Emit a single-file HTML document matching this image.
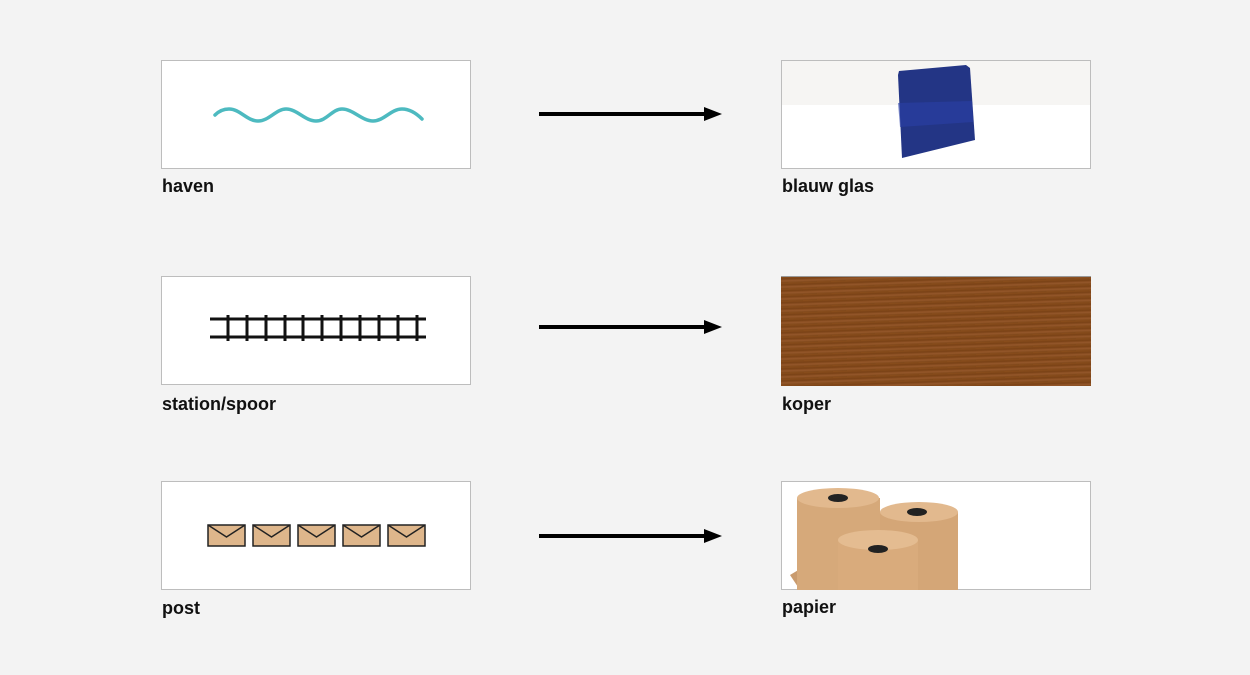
<!DOCTYPE html>
<html><head><meta charset="utf-8"><style>
html,body{margin:0;padding:0;background:#f3f3f3;}
body{width:1250px;height:675px;position:relative;overflow:hidden;font-family:"Liberation Sans",sans-serif;}
.box{position:absolute;width:308px;height:107px;background:#fff;border:1px solid #bdbdbd;overflow:hidden;}
.lbl{position:absolute;font-size:18px;font-weight:bold;color:#111;}
svg{position:absolute;left:0;top:0;}
</style></head><body>
<div class="box" style="left:161px;top:60px"></div>
<div class="box" style="left:161px;top:276px"></div>
<div class="box" style="left:161px;top:481px"></div>
<div class="box" style="left:781px;top:60px;background:linear-gradient(#f6f5f3 0,#f6f5f3 44px,#fff 44px)"></div>
<div class="box" style="left:781px;top:276px;width:310px;height:109px;border:none;border-top:1px solid #999;background:repeating-linear-gradient(178deg,#8a4e1c 0,#7a4216 2px,#94572a 4px,#7f4719 6px)"></div>
<div class="box" style="left:781px;top:481px"></div>
<div class="lbl" style="left:162px;top:176px">haven</div>
<div class="lbl" style="left:162px;top:394px">station/spoor</div>
<div class="lbl" style="left:162px;top:598px">post</div>
<div class="lbl" style="left:782px;top:176px">blauw glas</div>
<div class="lbl" style="left:782px;top:394px">koper</div>
<div class="lbl" style="left:782px;top:597px">papier</div>
<svg width="1250" height="675">
<path d="M215,115 C219,111 224,109 229,109 C240,109 247,121 258,121 C269,121 276,109 286,109 C297,109 305,121 316,121 C327,121 332,109 342,109 C353,109 362,121 373,121 C384,121 391,109 402,109 C410,109 417,114 422,119" fill="none" stroke="#4dbac0" stroke-width="3.5" stroke-linecap="round"/>
<g stroke="#111" stroke-width="3">
<line x1="210" y1="319" x2="426" y2="319"/><line x1="210" y1="337" x2="426" y2="337"/>
<line x1="228" y1="315" x2="228" y2="341"/><line x1="247" y1="315" x2="247" y2="341"/><line x1="266" y1="315" x2="266" y2="341"/><line x1="285" y1="315" x2="285" y2="341"/><line x1="303" y1="315" x2="303" y2="341"/><line x1="322" y1="315" x2="322" y2="341"/><line x1="341" y1="315" x2="341" y2="341"/><line x1="360" y1="315" x2="360" y2="341"/><line x1="379" y1="315" x2="379" y2="341"/><line x1="398" y1="315" x2="398" y2="341"/><line x1="417" y1="315" x2="417" y2="341"/>
</g>
<g fill="#deb68b" stroke="#222" stroke-width="1.5">
<rect x="208" y="525" width="37" height="21"/><polyline points="208,525 226.5,537 245,525" fill="none"/>
<rect x="253" y="525" width="37" height="21"/><polyline points="253,525 271.5,537 290,525" fill="none"/>
<rect x="298" y="525" width="37" height="21"/><polyline points="298,525 316.5,537 335,525" fill="none"/>
<rect x="343" y="525" width="37" height="21"/><polyline points="343,525 361.5,537 380,525" fill="none"/>
<rect x="388" y="525" width="37" height="21"/><polyline points="388,525 406.5,537 425,525" fill="none"/>
</g>
<g fill="#000" stroke="#000">
<line x1="539" y1="114" x2="706" y2="114" stroke-width="4"/><polygon points="704,107 722,114 704,121" stroke="none"/>
<line x1="539" y1="327" x2="706" y2="327" stroke-width="4"/><polygon points="704,320 722,327 704,334" stroke="none"/>
<line x1="539" y1="536" x2="706" y2="536" stroke-width="4"/><polygon points="704,529 722,536 704,543" stroke="none"/>
</g>
<polygon points="899,71 966,65 970,68 975,140 902,158 898,75" fill="#233585"/>
<polygon points="898,103 972,101 973,122 900,127" fill="#2a40a6" opacity=".6"/>
<g>
<polygon points="790,575 840,545 840,590 800,590" fill="#c99b6e"/>
<rect x="797" y="498" width="83" height="92" fill="#d6a97a"/>
<ellipse cx="838" cy="498" rx="41" ry="10" fill="#e2b98e"/>
<ellipse cx="838" cy="498" rx="10" ry="4" fill="#222"/>
<rect x="880" y="512" width="78" height="78" fill="#d4a677"/>
<ellipse cx="919" cy="512" rx="39" ry="10" fill="#e2b98e"/>
<ellipse cx="917" cy="512" rx="10" ry="4" fill="#222"/>
<rect x="838" y="540" width="80" height="50" fill="#d9ab7c"/>
<ellipse cx="878" cy="540" rx="40" ry="10" fill="#e4bc91"/>
<ellipse cx="878" cy="549" rx="10" ry="4" fill="#222"/>
</g>
</svg>
</body></html>
